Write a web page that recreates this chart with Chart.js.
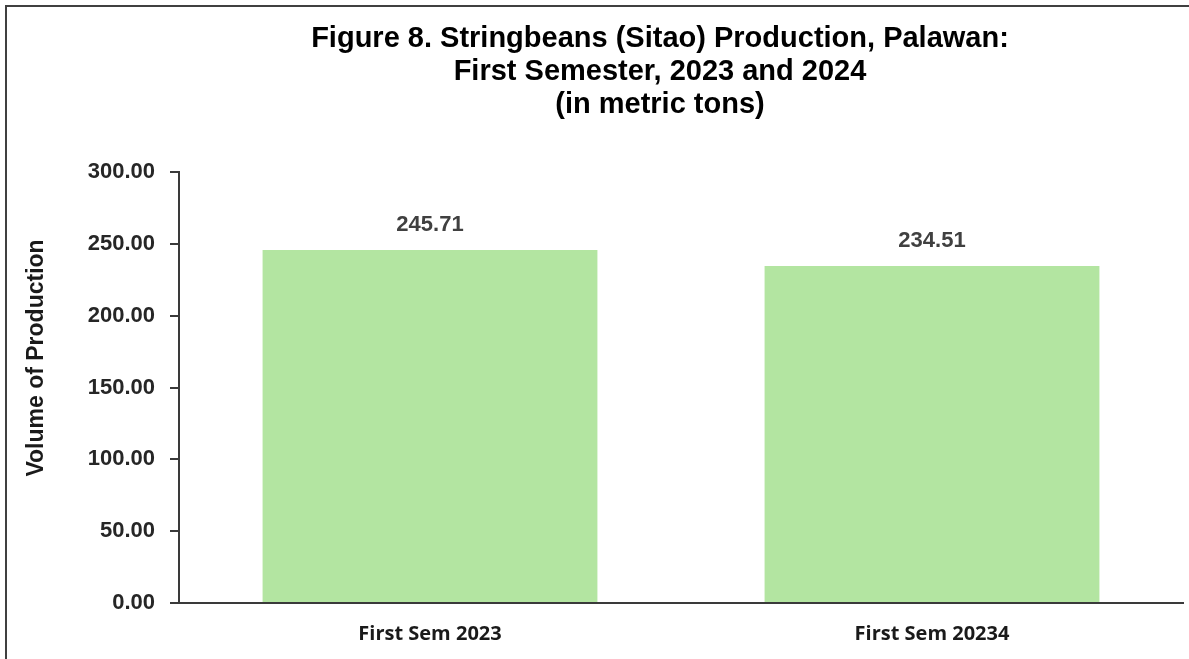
<!DOCTYPE html>
<html>
<head>
<meta charset="utf-8">
<script src="https://cdn.jsdelivr.net/npm/chart.js"></script>
<style>
  html, body { margin: 0; padding: 0; background: #fff; overflow: hidden; }
  #wrap { position: relative; width: 1189px; height: 659px; }
  #frame { position: absolute; left: 5px; top: 5px; width: 1300px; height: 800px; border: 2px solid #404040; }
  #title {
    position: absolute; left: 660px; top: 21px; transform: translateX(-50%);
    white-space: nowrap; text-align: center;
    font: bold 29px "Liberation Sans", Arial, sans-serif; line-height: 33px; color: #000;
  }
  canvas { position: absolute; left: 0; top: 0; }
</style>
</head>
<body>
<div id="wrap">
  <div id="frame"></div>
  <canvas id="chart" width="1189" height="659"></canvas>
  <div id="title">Figure 8. Stringbeans (Sitao) Production, Palawan:<br>First Semester, 2023 and 2024<br>(in metric tons)</div>
</div>
<script>
const categories = ['First Sem 2023', 'First Sem 20234'];
const production = [245.71, 234.51];
const yTicks = [0, 50, 100, 150, 200, 250, 300];
const yTitle = 'Volume of Production';

// value labels above the bars, plus the y title which sits above the axis middle
const barLabels = {
  id: 'barLabels',
  afterDatasetsDraw(chart) {
    const ctx = chart.ctx;
    const meta = chart.getDatasetMeta(0);
    ctx.save();
    ctx.font = 'bold 22px "Liberation Sans", Arial, sans-serif';
    ctx.fillStyle = '#404040';
    ctx.textAlign = 'center';
    ctx.textBaseline = 'middle';
    meta.data.forEach((bar, i) => {
      ctx.fillText(production[i].toFixed(2), bar.x, bar.y - 25);
    });
    ctx.font = 'bold 23px "Liberation Sans", Arial, sans-serif';
    ctx.fillStyle = '#1a1a1a';
    ctx.translate(37, 358);
    ctx.rotate(-Math.PI / 2);
    ctx.fillText(yTitle, 0, 0);
    ctx.restore();
  }
};

new Chart(document.getElementById('chart'), {
  type: 'bar',
  data: {
    labels: categories,
    datasets: [{
      data: production,
      backgroundColor: '#b3e5a1',
      borderWidth: 0,
      barPercentage: 0.667,
      categoryPercentage: 1
    }]
  },
  options: {
    responsive: false,
    animation: false,
    layout: { padding: { top: 172, right: 6, left: 0, bottom: 0 } },
    plugins: { legend: { display: false }, tooltip: { enabled: false } },
    scales: {
      x: {
        grid: { display: false, drawTicks: false },
        border: { display: true, color: '#3a3a3a', width: 2 },
        ticks: {
          color: '#1a1a1a', padding: 19,
          font: { family: '"Open Sans", sans-serif', size: 20, weight: 'bold' }
        },
        afterFit(scale) { scale.height = 56; }
      },
      y: {
        min: 0, max: 300,
        afterBuildTicks(scale) { scale.ticks = yTicks.map(v => ({ value: v })); },
        grid: { drawOnChartArea: false, drawTicks: true, tickLength: 9, color: '#3a3a3a', lineWidth: 2 },
        border: { display: true, color: '#3a3a3a', width: 2 },
        ticks: {
          color: '#262626', padding: 15,
          font: { family: '"Liberation Sans", Arial, sans-serif', size: 22, weight: 'bold' },
          callback: v => Number(v).toFixed(2)
        },
        afterFit(scale) { scale.width = 179; }
      }
    }
  },
  plugins: [barLabels]
});
</script>
</body>
</html>
